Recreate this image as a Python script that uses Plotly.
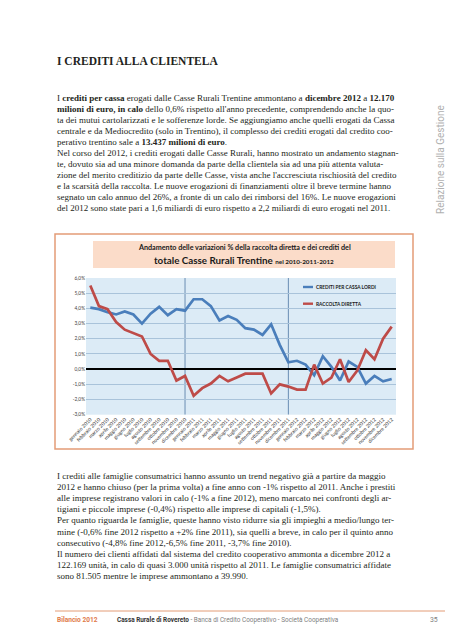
import plotly.graph_objects as go

W, H = 453, 640

# ---------------- data ----------------
months = ["gennaio", "febbraio", "marzo", "aprile", "maggio", "giugno",
          "luglio", "agosto", "settembre", "ottobre", "novembre", "dicembre"]
years = ["2010", "2011", "2012"]
categories = [f"{m} {y}" for y in years for m in months]

crediti_per_cassa_lordi = [
    4.05, 3.95, 3.75, 3.60, 3.80, 3.60, 3.00, 3.65, 4.10, 3.55, 3.95, 3.85,
    4.60, 4.60, 4.15, 3.20, 3.50, 3.25, 2.70, 2.60, 2.25, 2.95, 1.60, 0.45,
    0.55, 0.30, -0.40, 0.85, 0.15, -0.75, 0.50, 0.15, -0.95, -0.45, -0.80, -0.65,
]
raccolta_diretta = [
    5.50, 4.15, 3.95, 3.10, 2.60, 2.40, 2.15, 1.00, 0.55, 0.55, -0.75, -0.45,
    -1.75, -1.25, -0.95, -0.45, -0.80, -0.55, -0.30, -0.30, -0.30, -1.60, -1.00, -1.15,
    -1.35, -1.35, 0.30, -0.95, -0.55, 0.65, -0.85, -0.10, 1.25, 0.65, 2.00, 2.80,
]
series_names = ["CREDITI PER CASSA LORDI", "RACCOLTA DIRETTA"]
y_tick_values = [6, 5, 4, 3, 2, 1, 0, -1, -2, -3]
y_tick_labels = ["6,0%", "5,0%", "4,0%", "3,0%", "2,0%", "1,0%", "0,0%", "-1,0%", "-2,0%", "-3,0%"]
year_separators = ["dicembre 2010", "dicembre 2011"]

heading = "I CREDITI ALLA CLIENTELA"
para_top = [
    "I <b>crediti per cassa</b> erogati dalle Casse Rurali Trentine ammontano a <b>dicembre 2012</b> a <b>12.170</b>",
    "<b>milioni di euro, in calo</b> dello 0,6% rispetto all'anno precedente, comprendendo anche la quo-",
    "ta dei mutui cartolarizzati e le sofferenze lorde. Se aggiungiamo anche quelli erogati da Cassa",
    "centrale e da Mediocredito (solo in Trentino), il complesso dei crediti erogati dal credito coo-",
    "perativo trentino sale a <b>13.437 milioni di euro</b>.",
    "Nel corso del 2012, i crediti erogati dalle Casse Rurali, hanno mostrato un andamento stagnan-",
    "te, dovuto sia ad una minore domanda da parte della clientela sia ad una più attenta valuta-",
    "zione del merito creditizio da parte delle Casse, vista anche l'accresciuta rischiosità del credito",
    "e la scarsità della raccolta. Le nuove erogazioni di finanziamenti oltre il breve termine hanno",
    "segnato un calo annuo del 26%, a fronte di un calo dei rimborsi del 16%. Le nuove erogazioni",
    "del 2012 sono state pari a 1,6 miliardi di euro rispetto a 2,2 miliardi di euro erogati nel 2011.",
]
para_bottom = [
    "I crediti alle famiglie consumatrici hanno assunto un trend negativo già a partire da maggio",
    "2012 e hanno chiuso (per la prima volta) a fine anno con -1% rispetto al 2011. Anche i prestiti",
    "alle imprese registrano valori in calo (-1% a fine 2012), meno marcato nei confronti degli ar-",
    "tigiani e piccole imprese (-0,4%) rispetto alle imprese di capitali (-1,5%).",
    "Per quanto riguarda le famiglie, queste hanno visto ridurre sia gli impieghi a medio/lungo ter-",
    "mine (-0,6% fine 2012 rispetto a +2% fine 2011), sia quelli a breve, in calo per il quinto anno",
    "consecutivo (-4,8% fine 2012,-6,5% fine 2011, -3,7% fine 2010).",
    "Il numero dei clienti affidati dal sistema del credito cooperativo ammonta a dicembre 2012 a",
    "122.169 unità, in calo di quasi 3.000 unità rispetto al 2011. Le famiglie consumatrici affidate",
    "sono 81.505 mentre le imprese ammontano a 39.990.",
]

# ---------------- helpers ----------------
def px(x):
    return x / W

def py(y):
    return 1 - y / H

SERIF = "Liberation Serif, Times New Roman, serif"
SANS = "Lato, Open Sans, sans-serif"
NARROW = "Liberation Sans Narrow, Arial Narrow, Roboto, sans-serif"
TEXT = "#231f20"
BLUE = "#4a7ebb"
RED = "#be4b48"
ORANGE = "#e39c77"

fig = go.Figure()
fig.add_trace(go.Scatter(x=categories, y=crediti_per_cassa_lordi, mode="lines",
                         line=dict(color=BLUE, width=2.7), name=series_names[0]))
fig.add_trace(go.Scatter(x=categories, y=raccolta_diretta, mode="lines",
                         line=dict(color=RED, width=2.7), name=series_names[1]))

PLOT_L, PLOT_R = 78, 388
PLOT_T, PLOT_B = 270, 406.7

fig.update_layout(
    width=W, height=H,
    margin=dict(l=0, r=0, t=0, b=0),
    paper_bgcolor="white",
    plot_bgcolor="#dcebf6",
    showlegend=False,
    separators=",.",
    xaxis=dict(domain=[px(PLOT_L), px(PLOT_R)], type="category",
               range=[-0.5, len(categories) - 0.5],
               tickmode="array", tickvals=categories, ticktext=categories,
               tickangle=-45, tickfont=dict(family=SANS, size=5, color="#333"),
               showgrid=False, showline=False, ticks="", ticklen=0, automargin=False),
    yaxis=dict(domain=[py(PLOT_B), py(PLOT_T)], range=[-3, 6],
               tickmode="array", tickvals=y_tick_values, ticktext=y_tick_labels,
               tickfont=dict(family=SANS, size=4.8, color="#404040"),
               showgrid=True, gridcolor="#a9c3da", gridwidth=0.8,
               zeroline=True, zerolinecolor="#000000", zerolinewidth=2,
               showline=False, ticks="", automargin=False),
)

shapes = []
# chart frame
shapes.append(dict(type="rect", xref="paper", yref="paper",
                   x0=px(47), x1=px(405), y0=py(441), y1=py(226),
                   line=dict(color=ORANGE, width=1.5), fillcolor="rgba(0,0,0,0)", layer="below"))
# title band
shapes.append(dict(type="rect", xref="paper", yref="paper",
                   x0=px(85), x1=px(387), y0=py(260), y1=py(233),
                   line=dict(width=0), fillcolor="#fbdcc9", layer="below"))
# year separators
for c in year_separators:
    shapes.append(dict(type="line", xref="x", yref="y", x0=c, x1=c, y0=-3, y1=6,
                       line=dict(color="#6a8db3", width=1), layer="below"))
# legend samples
for i, col in enumerate([BLUE, RED]):
    yy = 279 + i * 16.7
    shapes.append(dict(type="line", xref="paper", yref="paper",
                       x0=px(295), x1=px(305), y0=py(yy), y1=py(yy),
                       line=dict(color=col, width=2.4)))
# footer rule
shapes.append(dict(type="line", xref="paper", yref="paper",
                   x0=px(47), x1=px(440), y0=py(603), y1=py(603),
                   line=dict(color=ORANGE, width=1)))
fig.update_layout(shapes=shapes)

ann = []
def text(x, y, s, size, color=TEXT, family=SERIF, anchor="left", angle=0):
    ann.append(dict(x=px(x), y=py(y), xref="paper", yref="paper", text=s,
                    showarrow=False, xanchor=anchor, yanchor="middle",
                    textangle=angle, font=dict(family=family, size=size, color=color)))

text(47, 53, "<b>" + heading + "</b>", 11.5)
for i, line in enumerate(para_top):
    text(47, 89.5 + i * 11.1, line, 9)
for i, line in enumerate(para_bottom):
    text(47, 468 + i * 11.1, line, 9)

# chart title
text(236, 239, "<b>Andamento delle variazioni % della raccolta diretta e dei crediti del</b>",
     7.2, color="#1a1a1a", family=SANS, anchor="center")
text(236, 252, "<b><span style='font-size:9.8px'>totale Casse Rurali Trentine</span> "
     "<span style='font-size:6.3px'>nel 2010-2011-2012</span></b>",
     9.8, color="#1a1a1a", family=SANS, anchor="center")

# legend labels
for i, name in enumerate(series_names):
    text(306, 279 + i * 16.7, "<b>" + name + "</b>", 4.8, color="#1a1a1a", family=SANS)

# side text
text(432, 152, "Relazione sulla Gestione", 10, color="#b0b0b0",
     family="Roboto, sans-serif", anchor="center", angle=-90)

# footer
text(47, 612, "<b>Bilancio 2012</b>", 6.6, color="#e07a4a", family=NARROW)
text(107, 612, "<b>Cassa Rurale di Rovereto</b> <span style='color:#808080'>- Banca di Credito Cooperativo - Società Cooperativa</span>",
     6.4, color="#333333", family=NARROW)
text(432, 612, "35", 6.9, color="#808080", family=NARROW, anchor="right")

fig.update_layout(annotations=ann)
fig.write_html("out.html")
